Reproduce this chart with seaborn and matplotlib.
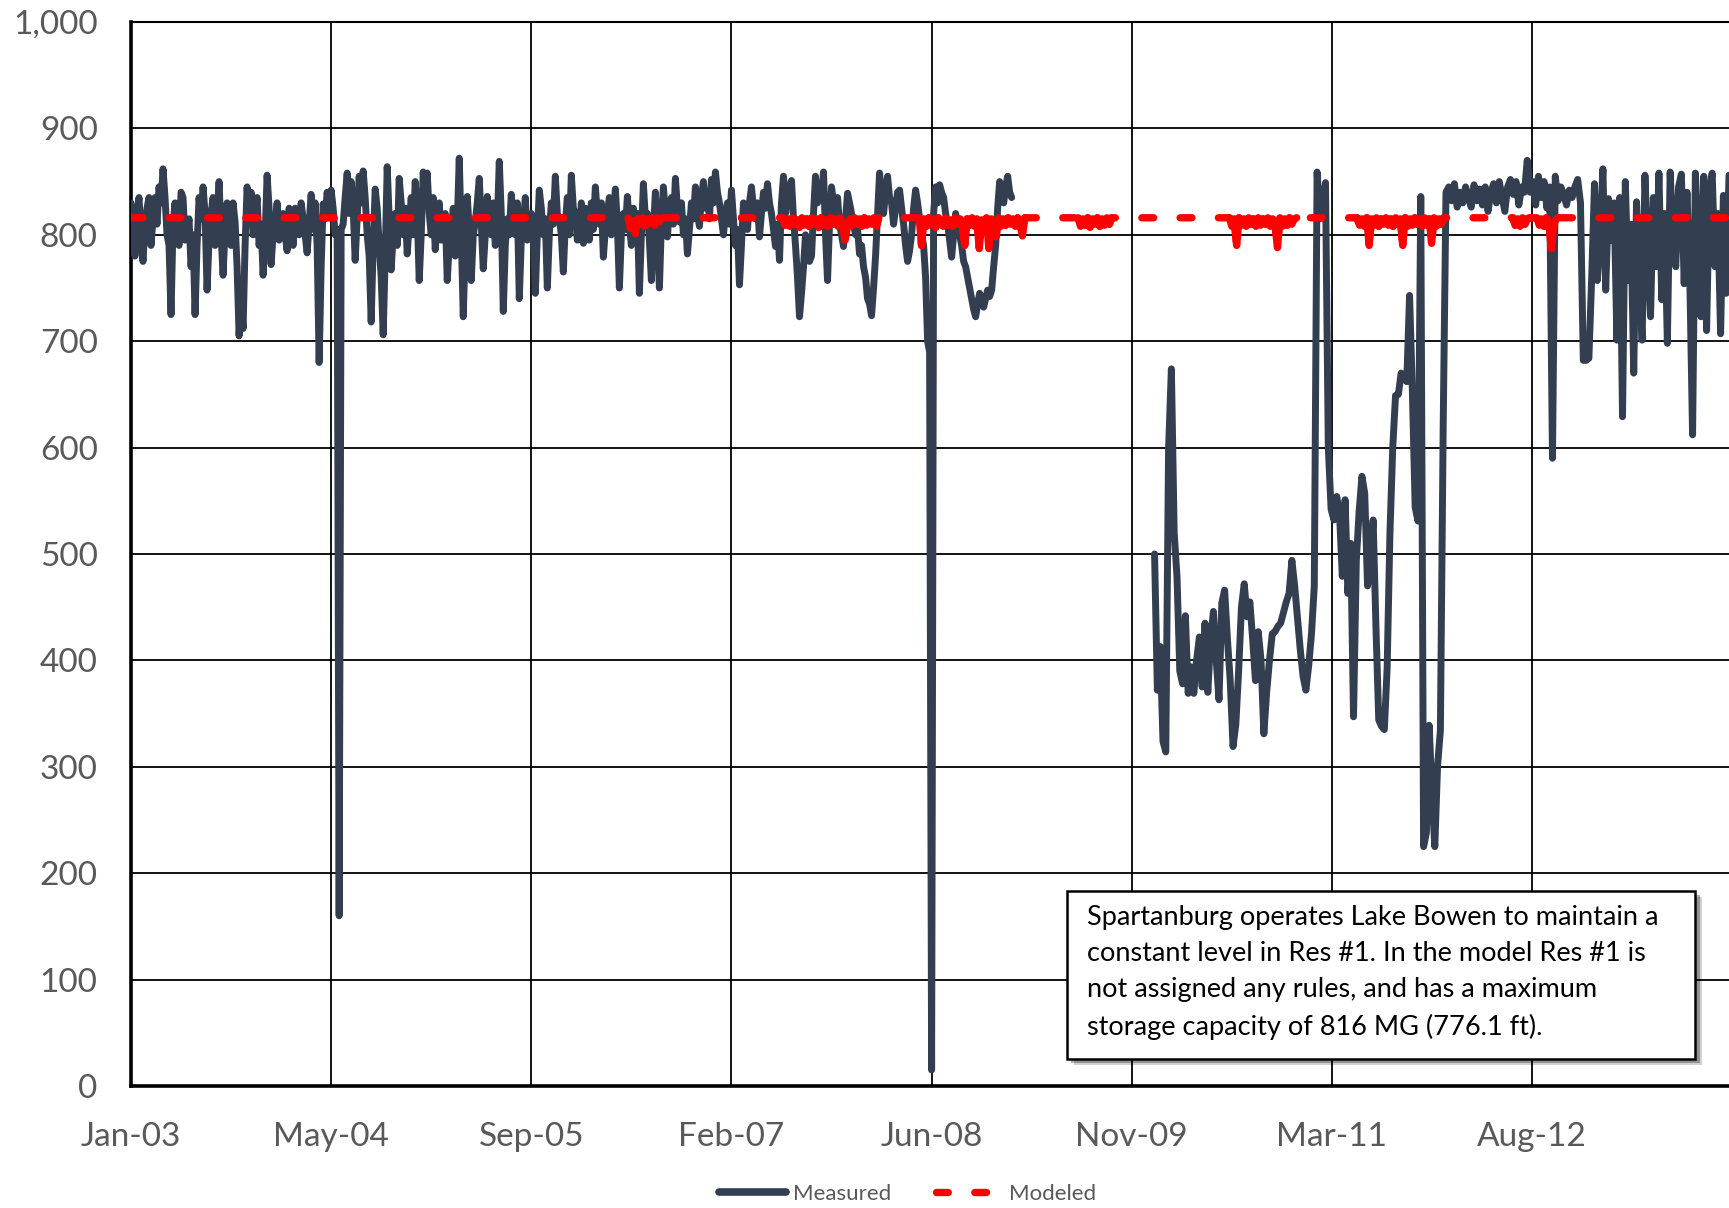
import pandas as pd
import matplotlib
matplotlib.use("Agg")
import matplotlib.pyplot as plt
import matplotlib.dates as mdates
from matplotlib.lines import Line2D
from matplotlib.patches import Rectangle
from matplotlib.ticker import FuncFormatter
import seaborn as sns

# Res #1 storage (MG)
# measured, part 1: one reading every 5 days from Jan 2003
meas_a_start = "2003-01-01"
meas_a = [
    830, 805, 780, 820, 835, 800, 775, 810, 825, 835, 790, 815, 835, 810, 845, 830, 862, 835, 800, 790,
    725, 810, 830, 800, 790, 840, 835, 795, 800, 815, 770, 800, 725, 790, 835, 815, 845, 820, 748, 795,
    820, 835, 790, 815, 850, 800, 762, 805, 830, 815, 790, 830, 812, 770, 705, 740, 712, 790, 845, 820,
    840, 800, 815, 835, 790, 810, 762, 800, 856, 825, 772, 800, 810, 830, 795, 805, 820, 800, 785, 825,
    810, 790, 825, 805, 800, 830, 815, 800, 783, 810, 838, 805, 830, 790, 680, 770, 829, 815, 840, 820,
    842, 825, 800, 805, 160, 805, 810, 835, 858, 820, 850, 825, 776, 815, 855, 830, 860, 835, 800, 780,
    718, 790, 843, 825, 790, 760, 706, 780, 864, 815, 767, 800, 820, 790, 853, 830, 800, 825, 782, 810,
    835, 800, 850, 820, 757, 800, 859, 830,
    858, 820, 800, 835, 786, 810, 830, 795, 805, 820, 757, 790, 800, 825, 780, 810, 872, 800, 723, 790,
    836, 805, 757, 800, 812, 830, 853, 810, 768, 800, 836, 815, 800, 830, 790, 810, 869, 820, 728, 790,
    815, 800, 838, 815, 800, 830, 740, 795, 810, 835, 795, 810, 820, 800, 745, 800, 842, 825, 800, 815,
    750, 800, 830, 810, 855, 820, 815, 800, 765, 810, 835, 800, 856, 825, 820, 795, 800, 830, 792, 825,
    815, 795, 830, 805, 845, 820, 810, 830, 779, 805, 820, 835, 800, 815, 843, 810, 750, 800, 820, 805,
    836, 810, 790, 825, 800, 820, 745, 800, 848, 815, 820, 795, 757, 805, 840, 800, 750, 810, 845, 820,
    798, 825, 835, 810, 853, 825, 812, 830, 800, 815, 782, 805, 830, 815, 845, 820, 808, 835, 850, 825,
    840, 815, 852, 830, 859, 840, 830, 815,
    800, 820, 830, 810, 842, 815, 790, 805, 753, 790, 830, 815, 805, 830, 845, 825, 815, 830, 798, 820,
    840, 825, 848, 830, 820, 805, 789, 810, 776, 830, 855, 820, 835, 845, 851, 815, 790, 760, 723, 745,
    770, 800, 790, 775, 780, 820, 855, 830, 845, 835, 859, 800, 757, 810, 845, 830, 820, 835, 810, 800,
    789, 815, 839, 830, 820, 810, 800, 805, 782, 790, 770, 760, 740, 735, 724, 750, 780, 820, 858, 835,
    820, 840, 855, 835, 830, 810, 825, 840, 842, 825, 810, 790, 775, 785, 800, 825, 842, 830, 815, 800,
    790, 760, 700, 690, 15, 820, 845, 830, 847, 840, 835, 820, 810, 795, 779, 800, 820, 810, 800, 790,
    775, 770, 760, 750, 740, 730, 723, 735, 745, 738, 732, 740, 748, 742, 748, 770, 790, 825, 850, 840,
    830, 845, 855, 840, 835,
]

# measured, part 2: weekly readings from Jan 2010
meas_b_start = "2010-01-01"
meas_b = [
    500, 372, 413, 324, 314, 599, 674, 520, 479, 390,
    378, 442, 369, 394, 369, 400, 422, 375, 435, 370,
    420, 446, 400, 363, 454, 466, 420, 381, 319, 340,
    390, 450, 472, 441, 455, 420, 381, 427, 400, 331,
    370, 400, 425, 427, 432, 435, 445, 455, 463, 494,
    470, 440, 410, 385, 372, 395, 425, 470, 859, 815,
    830, 849, 600, 542, 532, 554, 538, 479, 551, 463,
    510, 347, 494, 540, 573, 557, 470, 490, 532, 432,
    344, 338, 335, 393, 520, 600, 649, 650, 670, 665,
    662, 743, 653, 544, 531, 836, 225, 238, 339, 275,
    225, 301, 334, 620, 840, 845, 832, 848, 826, 840,
    830, 845, 835, 826, 847, 832, 843, 828, 845, 822,
    840, 848, 830, 850, 836, 822, 845, 852, 838, 850,
    828, 845, 840, 870, 840, 850, 828, 855, 835, 850,
    825, 845, 590, 855, 832, 845, 838, 828, 842, 835,
    845, 852, 830, 682, 682, 684, 760, 848, 757, 800,
    862, 748, 834, 795, 830, 701, 835, 629, 850, 757,
    810, 670, 831, 760, 701, 856, 780, 723, 835, 770,
    858, 739, 820, 698, 859, 800, 770, 845, 857, 754,
    840, 760, 612, 858, 800, 723, 855, 710, 840, 858,
    770, 820, 707, 837, 745, 856,
]

# modeled: 816 MG except a few stretches (6-day steps)
model_level = 816
model_first = "2003-01-01"
model_last = "2013-12-31"
run_starts = ["2006-05-27", "2007-06-17", "2008-05-23", "2009-06-24",
              "2010-07-07", "2011-05-22", "2012-06-14"]
run_values = [
    [816, 806, 813, 801, 815, 810, 816, 808, 815, 811, 816, 809, 816, 812, 816],
    [816, 809, 815, 808, 816, 810, 814, 807, 816, 809,
     815, 808, 816, 810, 815, 807, 816, 809, 814, 808,
     816, 810, 815, 808, 816, 809, 795, 808, 815, 809,
     816, 810, 815, 808, 816, 809, 815, 810, 816, 808, 816],
    [816, 790, 815, 808, 816, 809, 815, 807, 816, 810,
     808, 816, 809, 814, 808, 816, 810, 815, 808, 790,
     815, 809, 816, 808, 815, 787, 814, 808, 816, 787,
     815, 809, 798, 816, 808, 815, 809, 816, 810, 815,
     808, 816, 809, 799, 816],
    [816, 808, 815, 809, 816, 807, 815, 810, 816, 808, 815, 809, 816, 810, 816],
    [816, 808, 815, 790, 816, 809, 815, 808, 816, 810,
     815, 808, 816, 809, 815, 810, 816, 808, 815, 809,
     788, 816, 808, 815, 809, 816, 810, 815, 816],
    [816, 809, 815, 808, 816, 790, 815, 809, 816, 808,
     815, 810, 816, 809, 815, 808, 816, 810, 815, 790,
     816, 808, 815, 809, 816, 810, 815, 808, 816, 809,
     815, 792, 816, 808, 815, 810, 816],
    [816, 809, 815, 808, 816, 810, 815, 816, 816, 816,
     816, 809, 815, 808, 816, 810, 787, 809, 815, 816],
]

tick_dates = ["2003-01-01", "2004-05-15", "2005-09-27", "2007-02-09",
              "2008-06-23", "2009-11-05", "2011-03-20", "2012-08-01"]
axis_start = "2003-01-01"
axis_days = 3992

note = ("Spartanburg operates Lake Bowen to maintain a\n"
        "constant level in Res #1. In the model Res #1 is\n"
        "not assigned any rules, and has a maximum\n"
        "storage capacity of 816 MG (776.1 ft).")

navy = "#333F50"
red = "#FF0000"
grey = "#595959"

df_a = pd.DataFrame({"date": pd.date_range(meas_a_start, periods=len(meas_a), freq="5D"),
                     "MG": meas_a})
df_b = pd.DataFrame({"date": pd.date_range(meas_b_start, periods=len(meas_b), freq="7D"),
                     "MG": meas_b})

run_frames = [pd.DataFrame({"date": pd.date_range(s, periods=len(v), freq="6D"), "MG": v})
              for s, v in zip(run_starts, run_values)]
df_m = pd.concat([pd.DataFrame({"date": [pd.Timestamp(model_first)], "MG": [model_level]})]
                 + run_frames
                 + [pd.DataFrame({"date": [pd.Timestamp(model_last)], "MG": [model_level]})],
                 ignore_index=True)

sns.set_theme(style="white")
plt.rcParams["font.family"] = ["Lato", "DejaVu Sans"]

fig = plt.figure(figsize=(17.29, 12.08), dpi=100)
ax = fig.add_axes([131 / 1729, 1 - 1086 / 1208, 1 - 131 / 1729, 1064 / 1208])

for d in (df_a, df_b):
    sns.lineplot(data=d, x="date", y="MG", color=navy, ax=ax,
                 estimator=None, legend=False, zorder=3)
for ln in ax.lines:
    ln.set_linewidth(5.0)
    ln.set_solid_joinstyle("round")
    ln.set_solid_capstyle("round")

red_lw = 5.3
dash = (0, (1.6, 3.6))
n0 = len(ax.lines)
sns.lineplot(data=df_m, x="date", y="MG", color=red, ax=ax,
             estimator=None, legend=False, zorder=4)
ml = ax.lines[n0]
ml.set_linewidth(red_lw)
ml.set_linestyle(dash)
ml.set_dash_capstyle("round")
ml.set_dash_joinstyle("round")

# the wiggly stretches print as an almost solid band
for rf in run_frames:
    n1 = len(ax.lines)
    sns.lineplot(data=rf, x="date", y="MG", color=red, ax=ax,
                 estimator=None, legend=False, zorder=4)
    ax.lines[n1].set_linewidth(red_lw)
    ax.lines[n1].set_solid_joinstyle("round")
    ax.lines[n1].set_solid_capstyle("round")

ax.set_ylim(0, 1000)
ax.set_yticks(range(0, 1001, 100))
ax.yaxis.set_major_formatter(FuncFormatter(lambda v, p: f"{v:,.0f}"))
ax.set_xlim(pd.Timestamp(axis_start), pd.Timestamp(axis_start) + pd.Timedelta(days=axis_days))
ax.set_xticks(pd.to_datetime(tick_dates))
ax.xaxis.set_major_formatter(mdates.DateFormatter("%b-%y"))
ax.set_xlabel("")
ax.set_ylabel("")
ax.grid(True, color="black", lw=1.3)
ax.set_axisbelow(True)
ax.tick_params(axis="both", length=0, labelsize=24, labelcolor=grey)
ax.tick_params(axis="x", pad=26)
ax.tick_params(axis="y", pad=24)
for side in ("left", "bottom"):
    ax.spines[side].set_color("black")
    ax.spines[side].set_linewidth(2.6)
ax.spines["top"].set_color("black")
ax.spines["top"].set_linewidth(1.5)
ax.spines["right"].set_visible(False)

# note box with a soft shadow
bx, by, bw, bh = 0.5857, 0.0254, 0.3933, 0.1579
for off, a in ((0.006, 0.18), (0.004, 0.3)):
    ax.add_patch(Rectangle((bx + off * 0.7, by - off), bw, bh, transform=ax.transAxes,
                           facecolor="black", edgecolor="none", alpha=a, zorder=5))
ax.add_patch(Rectangle((bx, by), bw, bh, transform=ax.transAxes, facecolor="white",
                       edgecolor="black", lw=1.8, zorder=6))
ax.text(0.5985, 0.170, note, transform=ax.transAxes, ha="left", va="top",
        fontsize=19.5, linespacing=1.55, color="black", zorder=7)

handles = [Line2D([0], [0], color=navy, lw=5.5),
           Line2D([0], [0], color=red, lw=red_lw, linestyle=dash, dash_capstyle="round")]
fig.legend(handles, ["Measured", "Modeled"], loc="center", bbox_to_anchor=(0.525, 0.0116),
           ncol=2, frameon=False, fontsize=16, handlelength=3.0, columnspacing=2.0,
           labelcolor=grey, handletextpad=0.3)

fig.savefig("out.png", dpi=100)
